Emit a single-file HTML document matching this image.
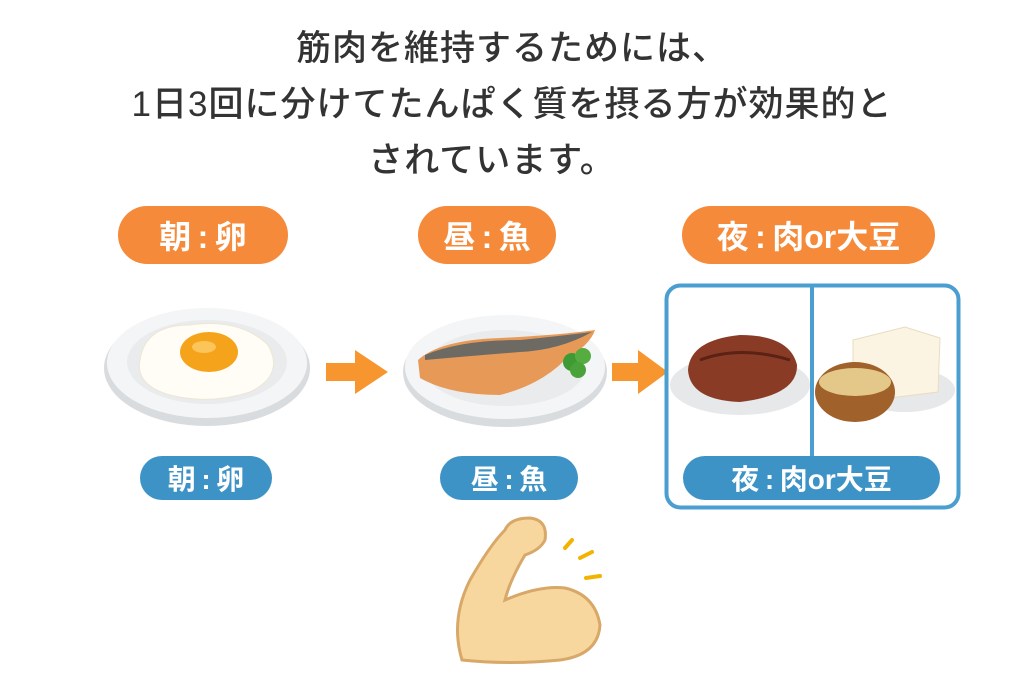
<!DOCTYPE html>
<html><head><meta charset="utf-8"><style>
body{margin:0;width:1024px;height:683px;background:#fff;overflow:hidden;position:relative;font-family:"Liberation Sans","Noto Sans CJK JP",sans-serif;color:#333}
.t{position:absolute;left:0;width:1024px;text-align:center;font-size:35px;font-weight:500;letter-spacing:1px}
.pill{position:absolute;color:#fff;font-weight:700;display:flex;align-items:center;justify-content:center;border-radius:30px}
.o{background:#f58a3a;font-size:32px;height:58px}
.b{background:#3d93c6;font-size:28px;height:44px;border-radius:22px}
</style></head><body>
<div class="t" style="top:20px">筋肉を維持するためには、</div>
<div class="t" style="top:76px">1日3回に分けてたんぱく質を摂る方が効果的と</div>
<div class="t" style="top:132px;left:-20px">されています。</div>

<div class="pill o" style="left:118px;top:206px;width:170px">朝&thinsp;:&thinsp;卵</div>
<div class="pill o" style="left:418px;top:206px;width:138px">昼&thinsp;:&thinsp;魚</div>
<div class="pill o" style="left:682px;top:206px;width:253px">夜&thinsp;:&thinsp;肉or大豆</div>

<svg width="1024" height="683" style="position:absolute;left:0;top:0">
<ellipse cx="207" cy="368" rx="103" ry="58" fill="#d9dcdf"/>
<ellipse cx="207" cy="363" rx="100" ry="55" fill="#f4f5f6"/>
<ellipse cx="207" cy="362" rx="80" ry="42" fill="#e9ebed"/>
<path d="M140 360 Q145 325 190 325 Q240 318 268 345 Q285 375 250 392 Q210 405 170 395 Q135 385 140 360Z" fill="#fffdf5" stroke="#eee6d5"/>
<ellipse cx="209" cy="352" rx="29" ry="20" fill="#f6a31c"/>
<ellipse cx="204" cy="347" rx="12" ry="6" fill="#fbc55a"/>
<path d="M326 363 H355 V350 L388 372 L355 394 V381 H326Z" fill="#f7962f"/>
<path d="M612 363 H638 V350 L668 372 L638 394 V381 H612Z" fill="#f7962f"/>
<ellipse cx="505" cy="372" rx="102" ry="55" fill="#d9dcdf"/>
<ellipse cx="505" cy="367" rx="100" ry="52" fill="#f4f5f6"/>
<ellipse cx="505" cy="368" rx="80" ry="38" fill="#e9ebed"/>
<path d="M418 360 Q440 340 500 338 Q560 335 595 330 Q590 345 565 360 Q540 385 500 395 Q450 395 420 378Z" fill="#e79a58"/>
<path d="M425 355 Q460 340 520 340 Q560 336 592 332 Q560 350 520 352 Q470 356 425 360Z" fill="#6d6a63"/>
<circle cx="572" cy="362" r="9" fill="#3f9a36"/><circle cx="583" cy="356" r="8" fill="#55ad42"/><circle cx="578" cy="370" r="8" fill="#4aa23b"/>
<rect x="666.5" y="285.5" width="292" height="222" rx="14" fill="#fff" stroke="#4a9fd0" stroke-width="4"/>
<line x1="812" y1="287" x2="812" y2="458" stroke="#4a9fd0" stroke-width="4"/>
<ellipse cx="740" cy="385" rx="70" ry="30" fill="#e6e8ea"/>
<path d="M688 370 Q690 340 740 335 Q790 335 797 365 Q798 395 740 402 Q690 400 688 370Z" fill="#8a3b26"/>
<path d="M700 360 Q740 345 790 360" stroke="#5a2214" stroke-width="3" fill="none"/>
<ellipse cx="905" cy="390" rx="50" ry="22" fill="#e6e8ea"/>
<path d="M853 340 L905 327 L940 338 L938 392 L890 398 L853 385Z" fill="#fbf4e2" stroke="#e8dcc0"/>
<ellipse cx="855" cy="392" rx="40" ry="30" fill="#a0612a"/>
<ellipse cx="855" cy="382" rx="36" ry="14" fill="#e3c88a"/>
</svg>

<div class="pill b" style="left:140px;top:456px;width:132px">朝&thinsp;:&thinsp;卵</div>
<div class="pill b" style="left:440px;top:456px;width:138px">昼&thinsp;:&thinsp;魚</div>
<div class="pill b" style="left:683px;top:456px;width:257px">夜&thinsp;:&thinsp;肉or大豆</div>

<svg width="1024" height="683" style="position:absolute;left:0;top:0">
<path d="M462 660 Q450 620 470 580 Q490 545 505 530 Q510 518 530 518 Q548 520 545 540 Q540 550 525 555 Q510 580 505 600 Q540 585 565 588 Q595 595 600 625 Q598 655 560 660 Q510 665 462 660Z" fill="#f7d79e" stroke="#d8a868" stroke-width="3"/>
<path d="M565 548 L572 540 M580 558 L592 552 M586 578 L600 576" stroke="#f1b400" stroke-width="4" stroke-linecap="round"/>
</svg>
</body></html>
